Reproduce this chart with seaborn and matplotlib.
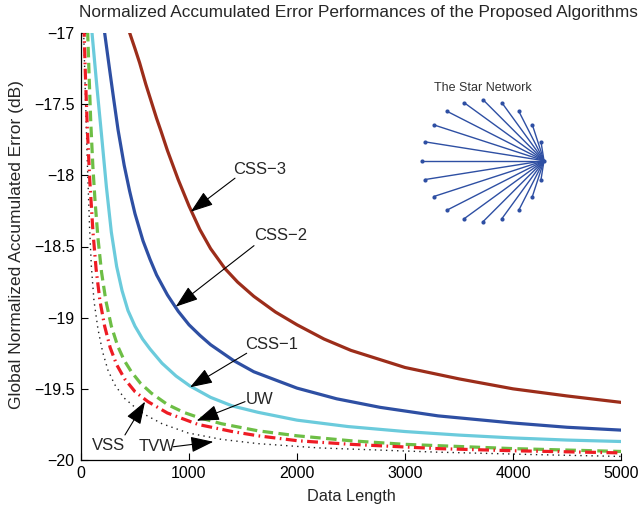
import numpy as np
import pandas as pd
import matplotlib
matplotlib.use("Agg")
import matplotlib.pyplot as plt
import seaborn as sns

# ---------------- data ----------------
css3_n = [400, 451, 500, 543, 600, 650, 700, 741, 800, 900, 1000, 1100, 1200, 1333, 1450, 1600,
          1800, 2000, 2250, 2500, 2750, 3000, 3500, 4000, 4500, 5000]
css3_y = [-16.88, -17.00, -17.11, -17.21, -17.36, -17.48, -17.60, -17.69, -17.825, -18.03, -18.215,
          -18.38, -18.515, -18.655, -18.75, -18.85, -18.96, -19.05, -19.15, -19.23, -19.29, -19.35,
          -19.43, -19.50, -19.55, -19.595]

css2_n = [200, 219, 260, 300, 343, 400, 450, 500, 574, 639, 700, 800, 900, 1000, 1102, 1200, 1410,
          1600, 1843, 2000, 2367, 2769, 3306, 4000, 4500, 5000]
css2_y = [-16.90, -17.00, -17.23, -17.45, -17.68, -17.93, -18.11, -18.27, -18.46, -18.59, -18.70,
          -18.84, -18.955, -19.05, -19.125, -19.19, -19.30, -19.38, -19.45, -19.495, -19.57, -19.63,
          -19.69, -19.74, -19.77, -19.79]

css1_n = [90, 102, 145, 188, 235, 281, 330, 380, 435, 500, 570, 639, 750, 880, 1009, 1200, 1400,
          1639, 2000, 2472, 3000, 3500, 4000, 4500, 5000]
css1_y = [-16.90, -17.00, -17.36, -17.70, -18.08, -18.40, -18.64, -18.81, -18.95, -19.06, -19.15,
          -19.22, -19.32, -19.41, -19.48, -19.56, -19.62, -19.665, -19.72, -19.765, -19.80, -19.825,
          -19.845, -19.86, -19.87]

uw_n = [45, 62, 75, 90, 110, 130, 157, 190, 230, 281, 340, 400, 466, 550, 651, 800, 950, 1083,
        1300, 1639, 2000, 2500, 3000, 3500, 4000, 4500, 5000]
uw_y = [-16.75, -17.00, -17.30, -17.62, -17.94, -18.18, -18.44, -18.68, -18.88, -19.06, -19.20,
        -19.30, -19.38, -19.46, -19.53, -19.61, -19.665, -19.70, -19.745, -19.795, -19.83, -19.865,
        -19.89, -19.905, -19.92, -19.93, -19.94]

vss_n = [20, 30, 40, 58, 80, 111, 140, 175, 219, 270, 330, 404, 500, 620, 800, 1083, 1400, 1639,
         2009, 2500, 3306, 4000, 5000]
vss_y = [-16.80, -17.02, -17.28, -17.66, -18.02, -18.40, -18.66, -18.88, -19.06, -19.21, -19.33,
         -19.43, -19.52, -19.59, -19.67, -19.75, -19.80, -19.83, -19.865, -19.89, -19.92, -19.935,
         -19.95]

tvw_n = [15, 25, 40, 60, 80, 96, 120, 157, 200, 250, 312, 400, 500, 590, 750, 991, 1300, 1639,
         2200, 3306, 4200, 5000]
tvw_y = [-16.70, -17.00, -17.42, -17.94, -18.38, -18.64, -18.88, -19.08, -19.24, -19.37, -19.47,
         -19.565, -19.63, -19.68, -19.745, -19.81, -19.855, -19.885, -19.915, -19.945, -19.962,
         -19.975]

x_ticks = [0, 1000, 2000, 3000, 4000, 5000]
y_ticks = [-20, -19.5, -19, -18.5, -18, -17.5, -17]
y_tick_labels = ["\u221220", "\u221219.5", "\u221219", "\u221218.5", "\u221218", "\u221217.5", "\u221217"]

n_nodes = 20  # star network: one hub + 19 leaves

# annotation (label, text pos, arrow tail, arrow tip)
annotations = [
    ("CSS\u22123", (1657, -17.956), (1426, -18.02), (1016, -18.256)),
    ("CSS\u22122", (1849, -18.426), (1602, -18.494), (877, -18.923)),
    ("CSS\u22121", (1766, -19.192), (1534, -19.250), (1009, -19.489)),
    ("UW", (1657, -19.578), (1519, -19.590), (1071, -19.724)),
    ("VSS", (253, -19.900), (407, -19.824), (593, -19.590)),
    ("TVW", (701, -19.907), (855, -19.907), (1225, -19.872)),
]

# ---------------- styling ----------------
sns.set_style("ticks")
plt.rcParams["font.family"] = ["Liberation Sans", "DejaVu Sans"]

W, H = 640, 513
fig = plt.figure(figsize=(W / 100, H / 100), dpi=100)
ax = fig.add_axes([81 / W, 1 - 460 / H, 540 / W, 427 / H])

series = [
    (css3_n, css3_y, "#9C2D1A", 2.3, "-"),
    (css2_n, css2_y, "#2E4FA3", 2.3, "-"),
    (css1_n, css1_y, "#6BCBDC", 2.3, "-"),
    (tvw_n, tvw_y, "#222222", 1.0, (0, (1.0, 3.0))),
    (uw_n, uw_y, "#6DBE45", 2.3, (0, (3.3, 1.7))),
    (vss_n, vss_y, "#EE1C24", 2.3, (0, (3.4, 1.4, 0.5, 1.4))),
]
for n, y, c, lw, ls in series:
    df = pd.DataFrame({"n": n, "y": y})
    sns.lineplot(data=df, x="n", y="y", ax=ax, color=c, lw=lw, linestyle=ls,
                 sort=True, estimator=None)

ax.set_xlim(0, 5000)
ax.set_ylim(-20, -17)
ax.set_xticks(x_ticks)
ax.set_xticklabels([str(t) for t in x_ticks])
ax.set_yticks(y_ticks)
ax.set_yticklabels(y_tick_labels)
ax.tick_params(direction="in", length=5, width=0.8, labelsize=11.5, colors="black")
ax.tick_params(axis="y", pad=4.5)
ax.tick_params(axis="x", pad=4)
for s in ["top", "right"]:
    ax.spines[s].set_visible(False)
for s in ["left", "bottom"]:
    ax.spines[s].set_linewidth(0.9)
    ax.spines[s].set_color("black")
ax.set_xlabel("")
ax.set_ylabel("")

fig.text(351 / W, 1 - 497 / H, "Data Length", ha="center", va="center", fontsize=11.7)
fig.text(17 / W, 1 - 245 / H, "Global Normalized Accumulated Error (dB)", ha="center",
         va="center", rotation=90, fontsize=12.5)
fig.text(358 / W, 1 - 13 / H,
         "Normalized Accumulated Error Performances of the Proposed Algorithms",
         ha="center", va="center", fontsize=12.4)

for label, tpos, tail, tip in annotations:
    ax.text(tpos[0], tpos[1], label, ha="center", va="center", fontsize=12)
    ax.annotate("", xy=tip, xytext=tail,
                arrowprops=dict(arrowstyle="-|>,head_length=1.0,head_width=0.35",
                                color="black", lw=0.8, shrinkA=0, shrinkB=0,
                                mutation_scale=14))

# ---------------- star network inset ----------------
R = 61.0
half = 70.0
nax = fig.add_axes([(483 - half) / W, 1 - (160.7 + half) / H, 2 * half / W, 2 * half / H])
nax.set_xlim(-half / R, half / R)
nax.set_ylim(-half / R, half / R)
nax.axis("off")
ang = np.deg2rad(np.arange(1, n_nodes) * 360.0 / n_nodes)
leaf_x = np.cos(ang)
leaf_y = np.sin(ang)
hub = (1.0, 0.0)
net_col = "#2E4FA3"
for lx, ly in zip(leaf_x, leaf_y):
    nax.plot([hub[0], lx], [hub[1], ly], color=net_col, lw=1.0)
nodes = pd.DataFrame({"x": list(leaf_x) + [hub[0]], "y": list(leaf_y) + [hub[1]]})
sns.scatterplot(data=nodes, x="x", y="y", ax=nax, color=net_col, s=9, edgecolor=net_col,
                linewidth=0, zorder=3)
nax.set_xlabel("")
nax.set_ylabel("")
fig.text(483 / W, 1 - 88 / H, "The Star Network", ha="center", va="center", fontsize=9,
         color="#333333")

fig.savefig("out.png", dpi=100)
